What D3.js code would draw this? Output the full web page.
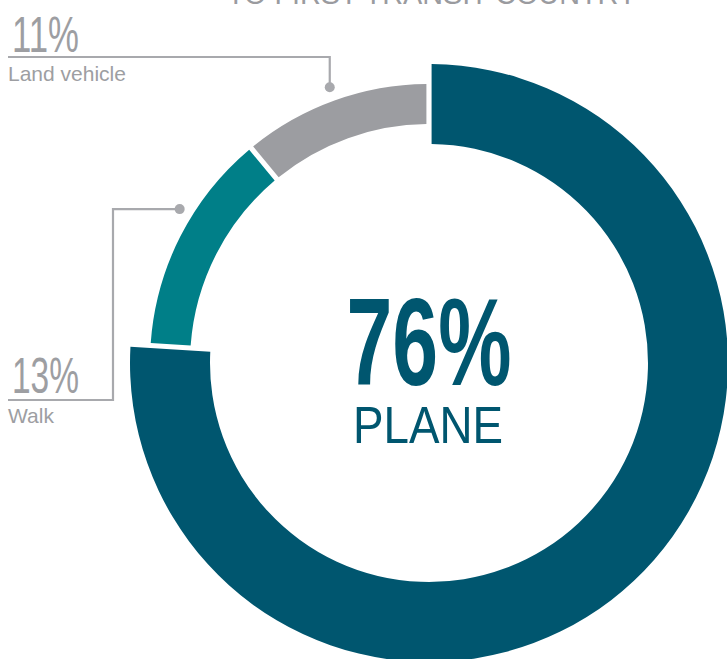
<!DOCTYPE html>
<html>
<head>
<meta charset="utf-8">
<script src="https://cdn.jsdelivr.net/npm/d3@7"></script>
<style>
  html, body { margin: 0; padding: 0; background: #fff; overflow: hidden; }
  svg { display: block; }
</style>
</head>
<body>
<svg id="chart1" width="727" height="659"></svg>
<script>
// chart data
const categories = ["Plane", "Walk", "Land vehicle"];
const shares = [76, 13, 11];
const pctLabels = ["76%", "13%", "11%"];
const nameLabels = ["PLANE", "Walk", "Land vehicle"];
const titleText = "TO FIRST TRANSIT COUNTRY";

const colors = { "Plane": "#00566f", "Walk": "#007f88", "Land vehicle": "#9c9da1" };

const svg = d3.select("#chart1");
const cx = 429, cy = 363;

// title, mostly cut off at the top of the frame
svg.append("text")
    .attr("x", 227).attr("y", 4)
    .attr("font-family", "Liberation Sans, Arial, sans-serif")
    .attr("font-size", 30)
    .attr("textLength", 410)
    .attr("lengthAdjust", "spacingAndGlyphs")
    .attr("fill", "#9a9b9f")
    .text(titleText);

const chartArea = svg.append("g").attr("transform", `translate(${cx},${cy})`);

const pie = d3.pie().sort(null).value(d => d.value);
const arcs = pie(categories.map((c, i) => ({ name: c, value: shares[i] })));

// plane ring is thicker, the small ones are thin rings on the same midline
const ringOuter = d => d.data.name === "Plane" ? 299 : 279;
const ringInner = d => d.data.name === "Plane" ? 219 : 239;

const arc = d3.arc()
    .outerRadius(ringOuter)
    .innerRadius(ringInner)
    .padAngle(0.02)
    .padRadius(259);

chartArea.selectAll("path.slice")
    .data(arcs)
    .enter().append("path")
    .attr("class", "slice")
    .attr("d", arc)
    .attr("fill", d => colors[d.data.name]);

// center label
chartArea.append("text")
    .attr("x", 0).attr("y", 22)
    .attr("text-anchor", "middle")
    .attr("font-family", "Liberation Sans Narrow, Arial Narrow, sans-serif")
    .attr("font-weight", "bold")
    .attr("font-size", 125)
    .attr("textLength", 165)
    .attr("lengthAdjust", "spacingAndGlyphs")
    .attr("fill", colors["Plane"])
    .text(pctLabels[0]);

chartArea.append("text")
    .attr("x", -1).attr("y", 80)
    .attr("text-anchor", "middle")
    .attr("font-family", "Liberation Sans, Arial, sans-serif")
    .attr("font-size", 52)
    .attr("textLength", 150)
    .attr("lengthAdjust", "spacingAndGlyphs")
    .attr("fill", colors["Plane"])
    .text(nameLabels[0]);

// leader lines for the two small slices
const lineColor = "#a8a9ad";
const textColor = "#9d9ea2";
const dotRadius = 293;

// f = where along the slice the dot sits (0 start, 1 end)
function dotPos(d, f) {
    const a = d.startAngle + f * (d.endAngle - d.startAngle);
    return [cx + dotRadius * Math.sin(a), cy - dotRadius * Math.cos(a)];
}

function addLabel(i, f, elbowX, lineY, pctY, nameY) {
    const d = arcs[i];
    const [dx, dy] = dotPos(d, f);
    let pts;
    if (elbowX == null) {
        // horizontal then down to the dot
        pts = [[8, lineY], [dx, lineY], [dx, dy]];
    } else {
        pts = [[8, lineY], [elbowX, lineY], [elbowX, dy], [dx, dy]];
    }
    svg.append("path")
        .attr("d", d3.line()(pts))
        .attr("fill", "none")
        .attr("stroke", lineColor)
        .attr("stroke-width", 2.2);
    svg.append("circle")
        .attr("cx", dx).attr("cy", dy).attr("r", 5)
        .attr("fill", lineColor);

    svg.append("text")
        .attr("x", 12).attr("y", pctY)
        .attr("font-family", "Liberation Sans Narrow, Arial Narrow, sans-serif")
        .attr("font-size", 50)
        .attr("textLength", 67)
        .attr("lengthAdjust", "spacingAndGlyphs")
        .attr("fill", textColor)
        .text(pctLabels[i]);

    svg.append("text")
        .attr("x", 8).attr("y", nameY)
        .attr("font-family", "Liberation Sans, Arial, sans-serif")
        .attr("font-size", 21)
        .attr("fill", textColor)
        .text(nameLabels[i]);
}

addLabel(2, 0.5, null, 57, 52, 81);
addLabel(1, 0.6, 113, 400, 393, 423);
</script>
</body>
</html>
